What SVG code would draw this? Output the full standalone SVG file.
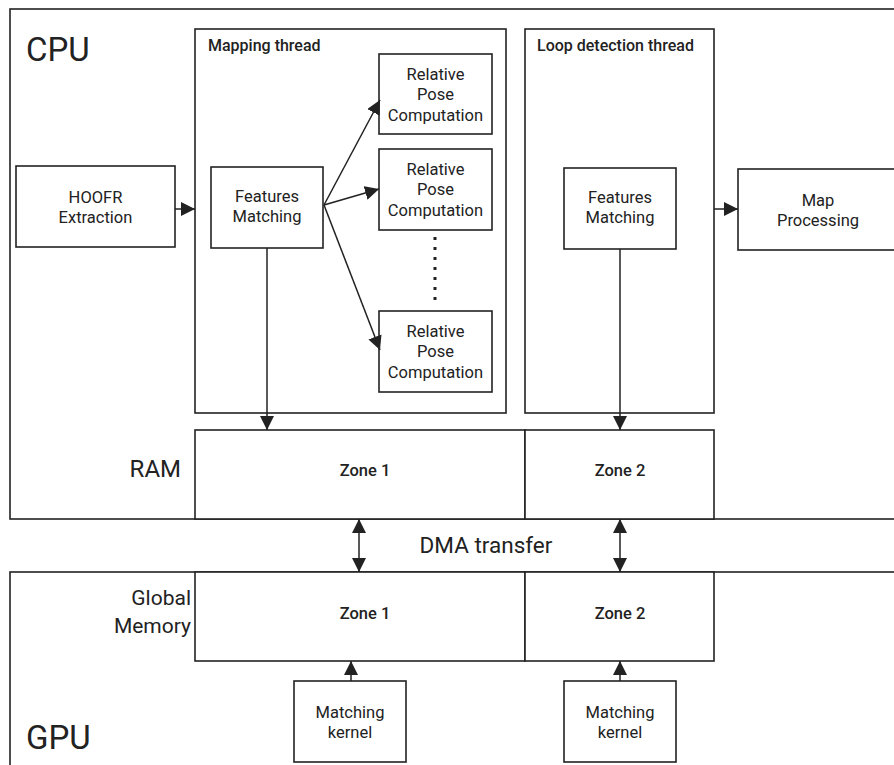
<svg xmlns="http://www.w3.org/2000/svg" width="894" height="765" viewBox="0 0 894 765">
<defs>
<style>
rect{fill:#fff;stroke:#222;stroke-width:1.6}
.c line,.c path{stroke:#222;stroke-width:1.5;fill:none}
text{font-family:Roboto,"Liberation Sans",sans-serif;fill:#222}
.lb{font-size:16.5px;text-anchor:middle}
.md{font-weight:500}
.big{font-size:33px}
</style>
<marker id="ah" markerUnits="userSpaceOnUse" markerWidth="14" markerHeight="14" refX="14" refY="7" orient="auto-start-reverse" viewBox="0 0 14 14">
<path d="M0,0 L14,7 L0,14 z" fill="#222"/>
</marker>
</defs>
<g id="cpu"><rect x="10" y="9" width="900" height="510"/><text class="big" x="26" y="61">CPU</text></g>
<g id="gpu"><rect x="10" y="572" width="900" height="210"/><text class="big" x="26" y="749">GPU</text></g>
<g id="mapping-thread"><rect x="195" y="29" width="311" height="384"/><text class="md" x="208" y="51" font-size="16">Mapping thread</text></g>
<g id="loop-thread"><rect x="525" y="29" width="189" height="384"/><text class="md" x="537" y="51" font-size="16">Loop detection thread</text></g>
<g id="hoofr"><rect x="16" y="166" width="159" height="81"/><text class="lb" x="95.5" y="202.5">HOOFR</text><text class="lb" x="95.5" y="223">Extraction</text></g>
<g id="fm1"><rect x="211" y="167" width="112" height="81"/><text class="lb" x="267" y="202">Features</text><text class="lb" x="267" y="222">Matching</text></g>
<g id="rpc1"><rect x="379" y="54" width="113" height="80"/><text class="lb" x="435.5" y="79.5">Relative</text><text class="lb" x="435.5" y="100">Pose</text><text class="lb" x="435.5" y="120.5">Computation</text></g>
<g id="rpc2"><rect x="379" y="149" width="113" height="81"/><text class="lb" x="435.5" y="174.5">Relative</text><text class="lb" x="435.5" y="195">Pose</text><text class="lb" x="435.5" y="215.5">Computation</text></g>
<g id="rpc3"><rect x="379" y="311" width="113" height="81"/><text class="lb" x="435.5" y="336.5">Relative</text><text class="lb" x="435.5" y="357">Pose</text><text class="lb" x="435.5" y="377.5">Computation</text></g>
<g id="fm2"><rect x="564" y="168" width="112" height="81"/><text class="lb" x="620" y="203">Features</text><text class="lb" x="620" y="223">Matching</text></g>
<g id="map-processing"><rect x="738" y="169" width="170" height="81"/><text class="lb" x="818" y="206">Map</text><text class="lb" x="818" y="226">Processing</text></g>
<g id="ram"><rect x="195" y="430" width="330" height="89"/><rect x="525" y="430" width="189" height="89"/><text x="181" y="476.5" font-size="24" text-anchor="end">RAM</text><text class="lb md" x="365" y="476" font-size="15.5">Zone 1</text><text class="lb md" x="620" y="476" font-size="15.5">Zone 2</text></g>
<g id="global-memory"><rect x="195" y="572" width="330" height="89"/><rect x="525" y="572" width="189" height="89"/><text x="191" y="605" font-size="21" text-anchor="end">Global</text><text x="191" y="633" font-size="21" text-anchor="end">Memory</text><text class="lb md" x="365" y="619" font-size="15.5">Zone 1</text><text class="lb md" x="620" y="619" font-size="15.5">Zone 2</text></g>
<g id="kernel1"><rect x="294" y="681" width="112" height="81"/><text class="lb" x="350" y="718">Matching</text><text class="lb" x="350" y="738">kernel</text></g>
<g id="kernel2"><rect x="564" y="681" width="112" height="81"/><text class="lb" x="620" y="718">Matching</text><text class="lb" x="620" y="738">kernel</text></g>
<g id="dma-label"><text x="486" y="553" font-size="22.5" text-anchor="middle">DMA transfer</text></g>
<g id="connectors" class="c">
<line x1="175" y1="209" x2="195" y2="209" marker-end="url(#ah)"/>
<line x1="714" y1="209" x2="738" y2="209" marker-end="url(#ah)"/>
<line x1="324" y1="205" x2="380" y2="100" marker-end="url(#ah)"/>
<line x1="324" y1="205" x2="379" y2="189" marker-end="url(#ah)"/>
<line x1="324" y1="205" x2="380" y2="350" marker-end="url(#ah)"/>
<line x1="435" y1="237" x2="435" y2="303" stroke-width="3" stroke-dasharray="3 7" style="stroke-width:3"/>
<line x1="267" y1="248" x2="267" y2="430" marker-end="url(#ah)"/>
<line x1="620" y1="249" x2="620" y2="430" marker-end="url(#ah)"/>
<line x1="359" y1="519" x2="359" y2="572" marker-start="url(#ah)" marker-end="url(#ah)"/>
<line x1="620" y1="519" x2="620" y2="572" marker-start="url(#ah)" marker-end="url(#ah)"/>
<line x1="351" y1="681" x2="351" y2="661" marker-end="url(#ah)"/>
<line x1="620" y1="681" x2="620" y2="661" marker-end="url(#ah)"/>
</g>
</svg>
